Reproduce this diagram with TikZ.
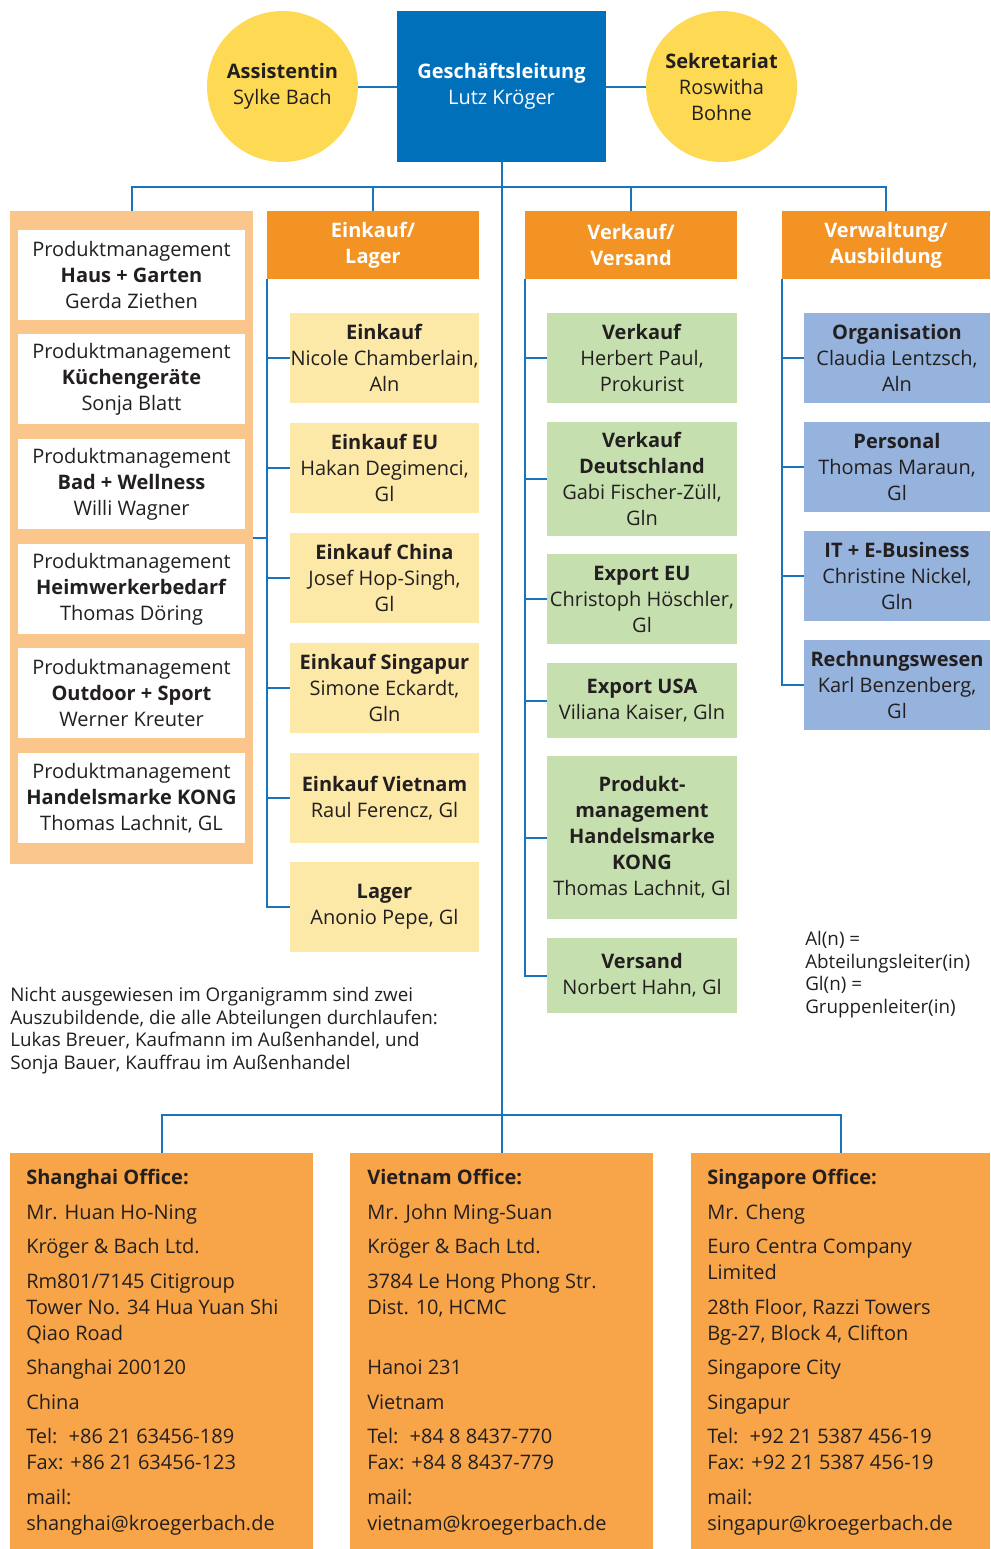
\documentclass[tikz,border=0pt]{standalone}
\usepackage{fontspec}
\usepackage{calc}
\setmainfont{Open Sans}
\definecolor{glblue}{RGB}{0,112,187}
\definecolor{gold}{RGB}{254,218,84}
\definecolor{headorange}{RGB}{243,147,36}
\definecolor{pmpanel}{RGB}{250,198,139}
\definecolor{ekyellow}{RGB}{253,233,167}
\definecolor{vkgreen}{RGB}{197,224,174}
\definecolor{vwblue}{RGB}{149,179,220}
\definecolor{offorange}{RGB}{247,165,72}
\definecolor{lineblue}{RGB}{24,116,190}
\definecolor{txt}{RGB}{35,31,32}
\newcommand{\orgfont}{\fontsize{15}{19.5}\selectfont}
\newcommand{\notefont}{\fontsize{14.1}{16.9}\selectfont}
\newcommand{\tel}{\makebox[\widthof{Fax:\ }][l]{Tel:}}
\tikzset{
  base/.style={inner sep=0pt, align=center, text=txt, font=\orgfont},
  circ/.style={base, circle, fill=gold, minimum size=113.25pt},
  gl/.style={base, fill=glblue, text=white, minimum width=156.75pt, minimum height=113.25pt},
  head/.style={base, fill=headorange, text=white, font=\orgfont\bfseries, minimum width=159pt, minimum height=51pt},
  pmbox/.style={base, fill=white, minimum width=170.25pt, minimum height=67.5pt},
  ekbox/.style={base, fill=ekyellow, minimum width=141.75pt, minimum height=67.5pt},
  vkbox/.style={base, fill=vkgreen, minimum width=142.5pt, minimum height=#1},
  vkbox/.default=67.5pt,
  vwbox/.style={base, fill=vwblue, minimum width=139.5pt, minimum height=67.5pt},
  office/.style={base, fill=offorange, minimum height=297pt},
  offtext/.style={base, align=left, anchor=north west},
  note/.style={base, align=left, anchor=north west, font=\notefont},
  conn/.style={draw=lineblue, line width=1.5pt}
}
\begin{document}
\begin{tikzpicture}[x=0.75pt, y=-0.75pt]
\useasboundingbox (0,0) rectangle (990,1549);
% Leitung
\node[gl] (gl) at (501.5,86.5) {\textbf{Geschäftsleitung}\\Lutz Kröger};
\node[circ] (asst) at (282.5,86.5) {\textbf{Assistentin}\\Sylke Bach};
\node[circ] (sek) at (721.5,86.5) {\textbf{Sekretariat}\\Roswitha\\Bohne};
\draw[conn] (asst) -- (gl);
\draw[conn] (gl) -- (sek);
% Abteilungen
\node[fill=pmpanel, minimum width=182.25pt, minimum height=489.75pt, inner sep=0pt] (pm) at (131.5,537.5) {};
\node[head] (ekhead) at (373,245) {Einkauf/\\Lager};
\node[head] (vkhead) at (631,245) {Verkauf/\\Versand};
\node[head, minimum width=156pt] (vwhead) at (886,245) {Verwaltung/\\Ausbildung};
\coordinate (bus) at (0,187);
\draw[conn] (pm.north) -- (pm.north |- bus) -- (vwhead.north |- bus) -- (vwhead.north);
\draw[conn] (ekhead.north) -- (ekhead.north |- bus);
\draw[conn] (vkhead.north) -- (vkhead.north |- bus);
% Produktmanagement
\node[pmbox] (pm1) at (131.5,275) {Produktmanagement\\\textbf{Haus + Garten}\\Gerda Ziethen};
\node[pmbox] (pm2) at (131.5,379) {Produktmanagement\\\textbf{Küchengeräte}\\Sonja Blatt};
\node[pmbox] (pm3) at (131.5,484) {Produktmanagement\\\textbf{Bad + Wellness}\\Willi Wagner};
\node[pmbox] (pm4) at (131.5,589) {Produktmanagement\\\textbf{Heimwerkerbedarf}\\Thomas Döring};
\node[pmbox] (pm5) at (131.5,693) {Produktmanagement\\\textbf{Outdoor + Sport}\\Werner Kreuter};
\node[pmbox] (pm6) at (131.5,798) {Produktmanagement\\\textbf{Handelsmarke KONG}\\Thomas Lachnit, GL};
\draw[conn] (pm.east) -- (pm.east -| ekhead.west);
% Einkauf/Lager
\node[ekbox] (ek1) at (384.5,358) {\textbf{Einkauf}\\Nicole Chamberlain,\\Aln};
\node[ekbox] (ek2) at (384.5,468) {\textbf{Einkauf EU}\\Hakan Degimenci,\\Gl};
\node[ekbox] (ek3) at (384.5,578) {\textbf{Einkauf China}\\Josef Hop-Singh,\\Gl};
\node[ekbox] (ek4) at (384.5,688) {\textbf{Einkauf Singapur}\\Simone Eckardt,\\Gln};
\node[ekbox] (ek5) at (384.5,798) {\textbf{Einkauf Vietnam}\\Raul Ferencz, Gl};
\node[ekbox] (ek6) at (384.5,907) {\textbf{Lager}\\Anonio Pepe, Gl};
\foreach \i in {1,...,6}
  \draw[conn] (ekhead.south west) |- (ek\i.west);
% Verkauf/Versand
\node[vkbox] (vk1) at (642,358) {\textbf{Verkauf}\\Herbert Paul,\\Prokurist};
\node[vkbox=85.5pt] (vk2) at (642,479) {\textbf{Verkauf}\\\textbf{Deutschland}\\Gabi Fischer-Züll,\\Gln};
\node[vkbox] (vk3) at (642,599) {\textbf{Export EU}\\Christoph Höschler,\\Gl};
\node[vkbox=56.25pt] (vk4) at (642,700.5) {\textbf{Export USA}\\Viliana Kaiser, Gln};
\node[vkbox=122.25pt] (vk5) at (642,837.5) {\textbf{Produkt-}\\\textbf{management}\\\textbf{Handelsmarke}\\\textbf{KONG}\\Thomas Lachnit, Gl};
\node[vkbox=56.25pt] (vk6) at (642,975.5) {\textbf{Versand}\\Norbert Hahn, Gl};
\foreach \i in {1,...,6}
  \draw[conn] (vkhead.south west) |- (vk\i.west);
% Verwaltung/Ausbildung
\node[vwbox] (vw1) at (897,358) {\textbf{Organisation}\\Claudia Lentzsch,\\Aln};
\node[vwbox] (vw2) at (897,467) {\textbf{Personal}\\Thomas Maraun,\\Gl};
\node[vwbox] (vw3) at (897,576) {\textbf{IT + E-Business}\\Christine Nickel,\\Gln};
\node[vwbox] (vw4) at (897,685) {\textbf{Rechnungswesen}\\Karl Benzenberg,\\Gl};
\foreach \i in {1,...,4}
  \draw[conn] (vwhead.south west) |- (vw\i.west);
% Hinweise
\node[note] (legend) at (805,931) {Al(n) =\\Abteilungsleiter(in)\\Gl(n) =\\Gruppenleiter(in)};
\node[note] (azubi) at (10,987) {Nicht ausgewiesen im Organigramm sind zwei\\Auszubildende, die alle Abteilungen durchlaufen:\\Lukas Breuer, Kaufmann im Außenhandel, und\\Sonja Bauer, Kauffrau im Außenhandel};
% Niederlassungen
\node[office, minimum width=227.25pt] (off1) at (161.5,1351) {};
\node[office, minimum width=227.25pt] (off2) at (501.5,1351) {};
\node[office, minimum width=224.25pt] (off3) at (840.5,1351) {};
\coordinate (lowbus) at (0,1115);
\draw[conn] (gl.south) -- (off2.north);
\draw[conn] (off1.north) -- (off1.north |- lowbus) -- (off3.north |- lowbus) -- (off3.north);
\node[offtext] (off1txt) at (26,1169) {\textbf{Shanghai Office:}\\[6.4pt]
  Mr. Huan Ho-Ning\\[6.4pt]
  Kröger \& Bach Ltd.\\[6.4pt]
  Rm801/7145 Citigroup\\Tower No. 34 Hua Yuan Shi\\Qiao Road\\[6.4pt]
  Shanghai 200120\\[6.4pt]
  China\\[6.4pt]
  \tel+86 21 63456-189\\Fax: +86 21 63456-123\\[6.4pt]
  mail:\\shanghai@kroegerbach.de};
\node[offtext] (off2txt) at (367,1169) {\textbf{Vietnam Office:}\\[6.4pt]
  Mr. John Ming-Suan\\[6.4pt]
  Kröger \& Bach Ltd.\\[6.4pt]
  3784 Le Hong Phong Str.\\Dist. 10, HCMC\\\mbox{}\\[6.4pt]
  Hanoi 231\\[6.4pt]
  Vietnam\\[6.4pt]
  \tel+84 8 8437-770\\Fax: +84 8 8437-779\\[6.4pt]
  mail:\\vietnam@kroegerbach.de};
\node[offtext] (off3txt) at (707,1169) {\textbf{Singapore Office:}\\[6.4pt]
  Mr. Cheng\\[6.4pt]
  Euro Centra Company\\Limited\\[6.4pt]
  28th Floor, Razzi Towers\\Bg-27, Block 4, Clifton\\[6.4pt]
  Singapore City\\[6.4pt]
  Singapur\\[6.4pt]
  \tel+92 21 5387 456-19\\Fax: +92 21 5387 456-19\\[6.4pt]
  mail:\\singapur@kroegerbach.de};
\end{tikzpicture}
\end{document}
